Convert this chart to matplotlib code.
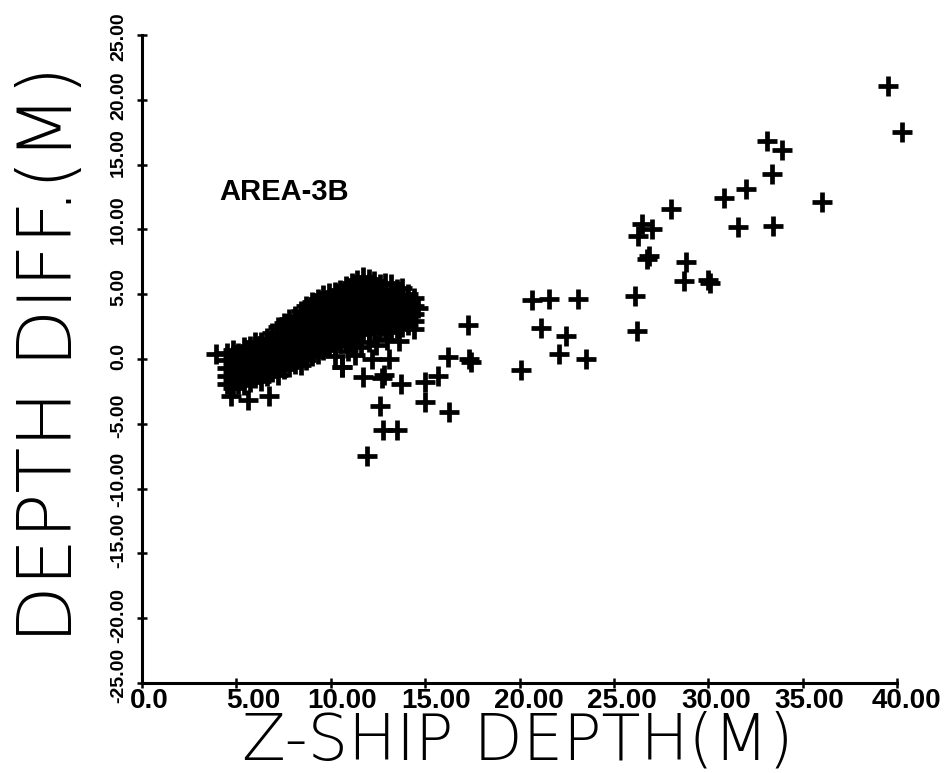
import matplotlib
matplotlib.use("Agg")
import matplotlib.pyplot as plt
from matplotlib.transforms import ScaledTranslation

# AREA-3B soundings: ship depth (m) against depth difference (m)
# dense group, one column of readings per depth step
band_depth = [4.5, 4.8, 5.1, 5.4, 5.7, 6.0, 6.3, 6.6, 6.9, 7.2, 7.5, 7.8, 8.1, 8.4,
              8.7, 9.0, 9.3, 9.6, 9.9, 10.2, 10.5, 10.8, 11.1, 11.4, 11.7, 12.0,
              12.3, 12.6, 12.9, 13.2, 13.5, 13.8, 14.1, 14.4]
band_diff = [
    [-1.9, -1.3, -0.7, -0.1, 0.5],
    [-2.2, -1.6, -1.0, -0.4, 0.2, 0.7],
    [-1.9, -1.3, -0.7, -0.1, 0.5],
    [-2.0, -1.5, -0.9, -0.3, 0.3, 0.9],
    [-1.8, -1.2, -0.6, 0.0, 0.6, 1.0],
    [-1.5, -0.9, -0.3, 0.3, 0.9, 1.3],
    [-1.7, -1.1, -0.5, 0.1, 0.7, 1.3],
    [-1.3, -0.7, -0.1, 0.5, 1.1, 1.6],
    [-1.0, -0.4, 0.2, 0.8, 1.4, 2.0],
    [-1.2, -0.6, 0.0, 0.6, 1.2, 1.8, 2.5],
    [-0.8, -0.2, 0.4, 1.0, 1.6, 2.2, 2.8],
    [-0.6, 0.0, 0.6, 1.2, 1.8, 2.4, 3.1],
    [-0.4, 0.2, 0.8, 1.4, 2.0, 2.6, 3.3],
    [-0.5, 0.1, 0.7, 1.3, 1.9, 2.5, 3.1, 3.7],
    [-0.1, 0.5, 1.1, 1.7, 2.3, 2.9, 3.5, 4.1],
    [0.2, 0.8, 1.4, 2.0, 2.6, 3.2, 3.8, 4.4],
    [0.4, 1.0, 1.6, 2.2, 2.8, 3.4, 4.0, 4.6],
    [0.7, 1.3, 1.9, 2.5, 3.1, 3.7, 4.3, 4.9],
    [0.9, 1.5, 2.1, 2.7, 3.3, 3.9, 4.5, 5.1],
    [1.0, 1.6, 2.2, 2.8, 3.4, 4.0, 4.6, 5.2],
    [1.2, 1.8, 2.4, 3.0, 3.6, 4.2, 4.8, 5.3],
    [1.5, 2.1, 2.7, 3.3, 3.9, 4.5, 5.1, 5.6],
    [1.7, 2.3, 2.9, 3.5, 4.1, 4.7, 5.3, 5.9],
    [1.9, 2.5, 3.1, 3.7, 4.3, 4.9, 5.5, 6.1],
    [2.0, 2.6, 3.2, 3.8, 4.4, 5.0, 5.6, 6.3],
    [2.2, 2.8, 3.4, 4.0, 4.6, 5.2, 5.8, 6.2],
    [2.0, 2.6, 3.2, 3.8, 4.4, 5.0, 5.6, 6.0],
    [2.2, 2.8, 3.4, 4.0, 4.6, 5.2, 5.8],
    [2.3, 2.9, 3.5, 4.1, 4.7, 5.3, 5.9],
    [2.1, 2.7, 3.3, 3.9, 4.5, 5.1, 5.8],
    [2.4, 3.0, 3.6, 4.2, 4.8, 5.4],
    [2.5, 3.1, 3.7, 4.3, 4.9, 5.5],
    [2.6, 3.2, 3.8, 4.4, 5.0],
    [2.3, 2.9, 3.5, 4.1, 4.7],
]

# individual soundings outside the dense group
depth = [
    14.6, 10.2, 10.6, 10.9, 11.3, 11.0, 11.6, 12.0, 12.4, 13.0, 13.6,
    3.9, 4.7, 5.6, 6.75,
    10.6, 11.7, 12.2, 13.1, 12.7, 12.8, 13.7, 12.6, 12.75, 13.5, 11.9,
    15.0, 15.7, 15.0, 16.25, 16.2, 17.3, 17.45, 17.25,
    20.1, 20.65, 21.55, 23.1, 21.15, 22.45, 22.1, 23.5,
    26.1, 26.2, 26.75, 26.85, 28.8, 28.7, 30.0, 30.1,
    26.5, 27.0, 26.3, 28.0, 31.6, 33.45, 30.85, 32.0, 36.05,
    33.4, 33.1, 33.9, 39.5, 40.25,
]
diff = [
    3.9, 0.2, -0.6, 0.6, 0.3, 1.2, 0.9, 1.3, 1.1, 1.5, 1.4,
    0.4, -2.85, -3.2, -2.85,
    -0.6, -1.4, 0.0, 0.0, -1.5, -1.2, -1.9, -3.6, -5.5, -5.5, -7.5,
    -1.8, -1.3, -3.3, -4.1, 0.15, 0.0, -0.2, 2.6,
    -0.85, 4.55, 4.6, 4.6, 2.4, 1.75, 0.4, 0.0,
    4.85, 2.15, 7.7, 7.95, 7.5, 6.0, 6.1, 5.85,
    10.4, 10.0, 9.5, 11.6, 10.15, 10.25, 12.4, 13.15, 12.1,
    14.3, 16.8, 16.15, 21.1, 17.5,
]

x_ticks = [0, 5, 10, 15, 20, 25, 30, 35, 40]
x_labels = ["0.0", "5.00", "10.00", "15.00", "20.00", "25.00", "30.00", "35.00", "40.00"]
y_ticks = [-25, -20, -15, -10, -5, 0, 5, 10, 15, 20, 25]
y_labels = ["-25.00", "-20.00", "-15.00", "-10.00", "-5.00", "0.0",
            "5.00", "10.00", "15.00", "20.00", "25.00"]

all_depth = list(depth)
all_diff = list(diff)
for d, col in zip(band_depth, band_diff):
    all_depth += [d] * len(col)
    all_diff += col

plt.rcParams['font.family'] = ['Liberation Sans', 'DejaVu Sans']

fig = plt.figure(figsize=(9.49, 7.73), dpi=100)
fig.patch.set_facecolor('white')
ax = fig.add_axes([142 / 949, 90 / 773, 755 / 949, 648 / 773])

ax.plot(all_depth, all_diff, '+', color='black', ms=15, mew=3.4, clip_on=False)

ax.set_xlim(0, 40)
ax.set_ylim(-25, 25)
for side in ('top', 'right'):
    ax.spines[side].set_visible(False)
for side in ('left', 'bottom'):
    ax.spines[side].set_linewidth(2.2)
    ax.spines[side].set_capstyle('projecting')

ax.set_xticks(x_ticks)
ax.set_xticklabels(x_labels, fontsize=20, fontweight='bold')
ax.set_yticks(y_ticks)
ax.set_yticklabels(y_labels, fontsize=14, fontweight='bold', rotation=90, va='center')
ax.tick_params(direction='inout', length=7.5, width=1.8, color='black')
ax.tick_params(axis='x', pad=0)
ax.tick_params(axis='y', pad=7)

# plotter-style label placement: nudge each label off its tick
x_shift = [7, 17, 11, 11, 9, 8.5, 8, 7, 9]
for lbl, dx in zip(ax.get_xticklabels(), x_shift):
    lbl.set_transform(lbl.get_transform() + ScaledTranslation(dx / 100, 0, fig.dpi_scale_trans))
y_shift = [8, 3, 13, 9, 7.5, 3, 7, 10, 12, 4, -2]
for lbl, dy in zip(ax.get_yticklabels(), y_shift):
    lbl.set_transform(lbl.get_transform() + ScaledTranslation(0, dy / 100, fig.dpi_scale_trans))

ax.text(4.1, 12.3, "AREA-3B", fontsize=21, fontweight='bold', ha='left', va='baseline')

fig.text(518 / 949, 1 - 759 / 773, "Z-SHIP DEPTH(M)", family='DejaVu Sans', fontweight='light',
         fontsize=46, ha='center', va='baseline')
fig.text(72 / 949, 1 - 354 / 773, "DEPTH DIFF.(M)", family='DejaVu Sans', fontweight='light',
         fontsize=54, rotation=90, rotation_mode='anchor', ha='center', va='baseline')

fig.savefig("out.png", dpi=100, facecolor='white')
